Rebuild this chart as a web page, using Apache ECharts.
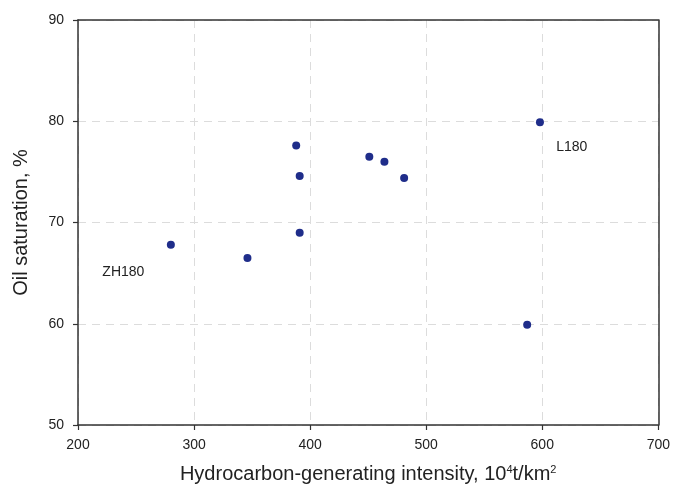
<!DOCTYPE html>
<html>
<head>
<meta charset="utf-8">
<script src="https://cdn.jsdelivr.net/npm/echarts@6/dist/echarts.min.js"></script>
<style>html,body{margin:0;padding:0;background:#fff}#c{width:673px;height:492px}</style>
</head>
<body>
<div id="c"></div>
<script>
var xValues = [280, 346, 388, 391, 391, 451, 464, 481, 598, 587];
var yValues = [67.8, 66.5, 77.6, 74.6, 69.0, 76.5, 76.0, 74.4, 79.9, 59.9];
var labelNames = ['ZH180', 'L180'];
var labelX = [221, 612];
var labelY = [65.1, 77.4];
var xTicks = [200, 300, 400, 500, 600, 700];
var yTicks = [50, 60, 70, 80, 90];

var font = '"Liberation Sans", Arial, sans-serif';
var chart = echarts.init(document.getElementById('c'), null, {renderer: 'canvas'});
var lineStyle = {color: '#333', width: 1.5};
chart.setOption({
  animation: false,
  backgroundColor: '#fff',
  grid: {left: 78, right: 14, top: 20, bottom: 67},
  xAxis: [{
    type: 'value', min: xTicks[0], max: xTicks[xTicks.length - 1], interval: 100,
    name: 'Hydrocarbon-generating intensity, 10{sup|4}t/km{sup|2}',
    nameLocation: 'middle', nameGap: 39,
    nameTextStyle: {fontFamily: font, fontSize: 20, color: '#222',
      rich: {sup: {fontSize: 11, verticalAlign: 'top', padding: [0, 0, 9, 0], fontFamily: font, color: '#222'}}},
    axisLine: {show: true, lineStyle: lineStyle},
    axisTick: {show: true, inside: false, length: 5, lineStyle: {color: '#333', width: 1.2}},
    axisLabel: {fontFamily: font, fontSize: 14, color: '#222', margin: 13},
    splitLine: {show: true, lineStyle: {color: '#dcdcdc', type: [8, 6], width: 1}}
  }, {
    type: 'value', position: 'top', min: xTicks[0], max: xTicks[xTicks.length - 1], interval: 100,
    axisLine: {show: true, onZero: false, lineStyle: lineStyle},
    axisTick: {show: false}, axisLabel: {show: false}, splitLine: {show: false}
  }],
  yAxis: [{
    type: 'value', min: yTicks[0], max: yTicks[yTicks.length - 1], interval: 10,
    name: 'Oil saturation, %', nameLocation: 'middle', nameGap: 47,
    nameTextStyle: {fontFamily: font, fontSize: 20, color: '#222'},
    axisLine: {show: true, lineStyle: lineStyle},
    axisTick: {show: true, inside: false, length: 5, lineStyle: {color: '#333', width: 1.2}},
    axisLabel: {fontFamily: font, fontSize: 14, color: '#222', margin: 14},
    splitLine: {show: true, lineStyle: {color: '#dcdcdc', type: [8, 6], width: 1}}
  }, {
    type: 'value', position: 'right', min: yTicks[0], max: yTicks[yTicks.length - 1], interval: 10,
    axisLine: {show: true, onZero: false, lineStyle: lineStyle},
    axisTick: {show: false}, axisLabel: {show: false}, splitLine: {show: false}
  }],
  series: [
    {
      type: 'scatter', symbol: 'circle', symbolSize: 8,
      itemStyle: {color: '#1f2d8a', opacity: 1},
      data: xValues.map(function (x, i) { return [x, yValues[i]]; })
    },
    {
      type: 'scatter', symbolSize: 0, silent: true,
      itemStyle: {opacity: 1},
      label: {show: true, position: 'right', distance: 0, formatter: '{b}', fontFamily: font, fontSize: 14, color: '#222'},
      data: labelNames.map(function (n, i) { return {name: n, value: [labelX[i], labelY[i]]}; })
    }
  ]
});
</script>
</body>
</html>
